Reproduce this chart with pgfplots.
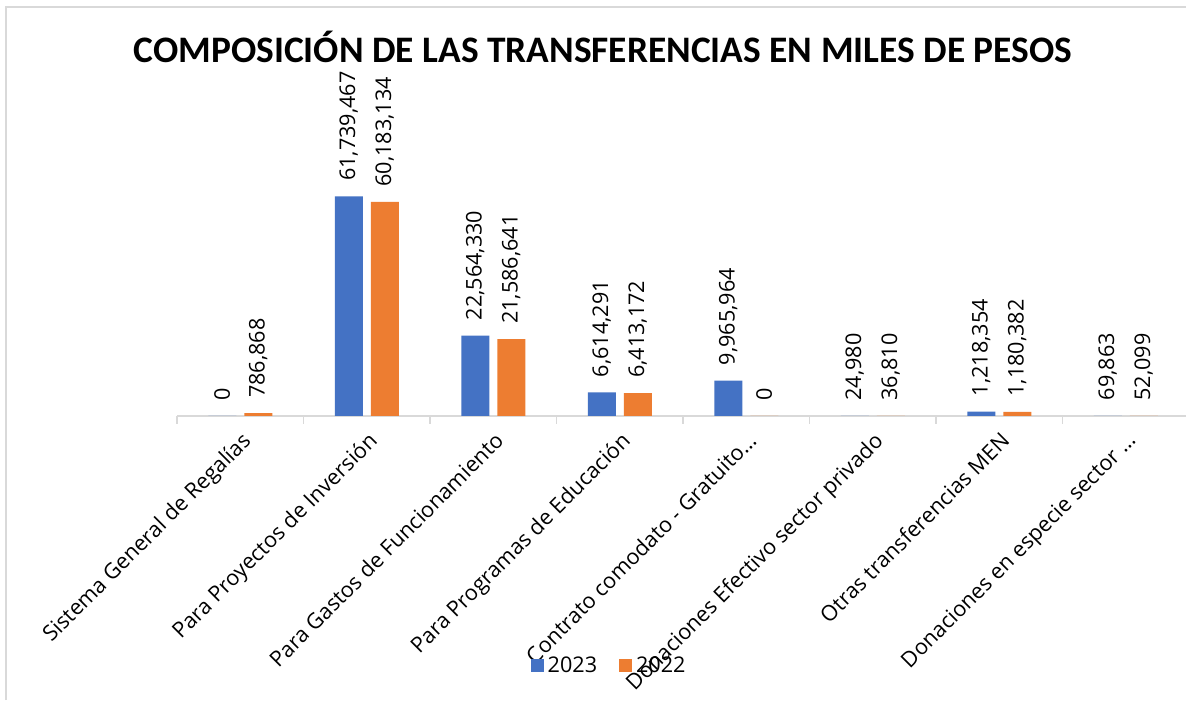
\documentclass[border=0pt]{standalone}
\usepackage{fontspec}
\setmainfont{Carlito}
\newfontfamily\labfont{Open Sans}
\usepackage{pgfplots}
\usepackage{pgfplotstable}
\pgfplotsset{compat=1.18}
\definecolor{c23}{HTML}{4472C4}
\definecolor{c22}{HTML}{ED7D31}
\definecolor{gridg}{HTML}{D9D9D9}

\pgfplotstableread{
x y lab
0 0 0
1 61739467 61,739,467
2 22564330 22,564,330
3 6614291 6,614,291
4 9965964 9,965,964
5 24980 24,980
6 1218354 1,218,354
7 69863 69,863
}\dA

\pgfplotstableread{
x y lab
0 786868 786,868
1 60183134 60,183,134
2 21586641 21,586,641
3 6413172 6,413,172
4 0 0
5 36810 36,810
6 1180382 1,180,382
7 52099 52,099
}\dB

\begin{document}
\begin{tikzpicture}
\useasboundingbox (0,0) rectangle (593pt,350pt);
\fill[white] (0,0) rectangle (593pt,350pt);
\draw[gridg, line width=1pt] (3pt,0) -- (3pt,346.5pt) -- (593pt,346.5pt);
\node[font=\bfseries\fontsize{18.7}{22}\selectfont, anchor=base, inner sep=0pt] at (301.5pt,318.5pt) {COMPOSICIÓN DE LAS TRANSFERENCIAS EN MILES DE PESOS};
\begin{axis}[
 at={(88.5pt,142pt)}, anchor=south west, scale only axis, width=506pt, height=124.5pt,
 xmin=-0.5, xmax=7.5, ymin=0, ymax=70000000,
 ybar=4pt, bar width=14pt,
 axis x line=bottom, axis y line=none,
 x axis line style={-, draw=gridg, line width=0.8pt},
 xtick={0,1,2,3,4,5,6,7},
 xticklabels={Sistema General de Regalías, Para Proyectos de Inversión, Para Gastos de Funcionamiento, Para Programas de Educación, Contrato comodato - Gratuito…, Donaciones Efectivo sector privado, Otras transferencias MEN, Donaciones en especie sector …},
 major x tick style={draw=none},
 minor xtick={-0.5,0.5,1.5,2.5,3.5,4.5,5.5,6.5,7.5},
 minor x tick style={gridg, line width=0.8pt}, minor tick length=4pt, xtick align=outside,
 xticklabel style={rotate=45, anchor=north east, font=\labfont\fontsize{10.8}{13}\selectfont, inner sep=2pt},
 ytick={0,10000000,20000000,30000000,40000000,50000000,60000000,70000000},
 yticklabels={}, ymajorgrids, major grid style={gridg, line width=0.8pt}, major y tick style={draw=none},
 clip=false,
 point meta=explicit symbolic,
 nodes near coords,
 nodes near coords style={rotate=90, anchor=west, inner xsep=7.5pt, inner ysep=0pt, font=\labfont\fontsize{10.8}{13}\selectfont, text=black},
 legend style={at={(0.428,-1.004)}, anchor=center, draw=none, fill=none, legend columns=2, font=\labfont\fontsize{10.8}{13}\selectfont, /tikz/every even column/.append style={column sep=9pt}},
 legend image code/.code={\fill[#1] (0pt,-3.25pt) rectangle (6.5pt,3.25pt);},
]
\addplot[fill=c23, draw=none] table[x=x, y=y, meta=lab] {\dA};
\addplot[fill=c22, draw=none] table[x=x, y=y, meta=lab] {\dB};
\legend{2023,2022}
\end{axis}
\end{tikzpicture}
\end{document}
